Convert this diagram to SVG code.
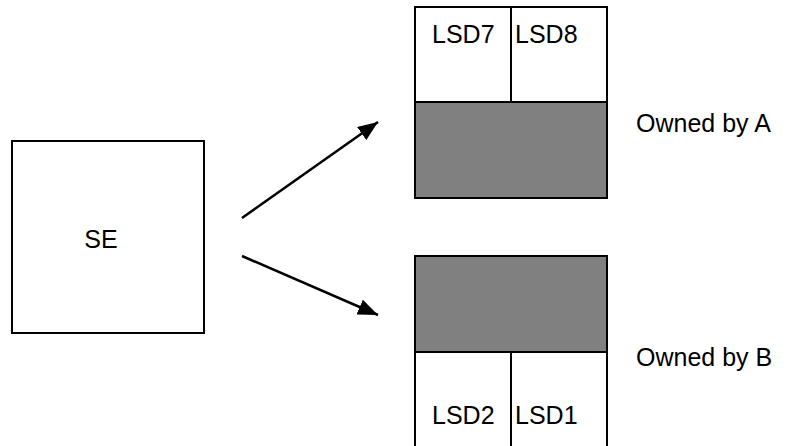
<svg xmlns="http://www.w3.org/2000/svg" width="791" height="446" viewBox="0 0 791 446">
<defs>
<style>
.box{fill:#fff;stroke:#000;stroke-width:2}
.dark{fill:#808080;stroke:#000;stroke-width:2}
.ln{stroke:#000;stroke-width:2.5;fill:none}
.div{stroke:#000;stroke-width:2;fill:none}
.t{font-family:"Liberation Sans",Arial,sans-serif;font-size:25px;fill:#000}
</style>
<marker id="ah" markerWidth="20" markerHeight="16" refX="20" refY="8" orient="auto" markerUnits="userSpaceOnUse">
<path d="M0,0 L20,8 L0,16 Z" fill="#000"/>
</marker>
</defs>
<rect width="791" height="446" fill="#fff"/>
<g id="se">
<rect class="box" x="12" y="141" width="192" height="192"/>
<text class="t" x="101" y="248" text-anchor="middle">SE</text>
</g>
<g id="ownerA">
<rect class="box" x="415" y="7" width="192" height="95"/>
<line class="div" x1="511" y1="7" x2="511" y2="102"/>
<rect class="dark" x="415" y="102" width="192" height="96"/>
<text class="t" x="432" y="43">LSD7</text>
<text class="t" x="515" y="43">LSD8</text>
<text class="t" x="636" y="132">Owned by A</text>
</g>
<g id="ownerB">
<rect class="dark" x="415" y="256" width="192" height="96"/>
<rect class="box" x="415" y="352" width="192" height="110"/>
<line class="div" x1="511" y1="352" x2="511" y2="462"/>
<text class="t" x="432" y="424">LSD2</text>
<text class="t" x="515" y="424">LSD1</text>
<text class="t" x="636" y="366">Owned by B</text>
</g>
<g id="connectors">
<line class="ln" x1="242" y1="218" x2="378" y2="122" marker-end="url(#ah)"/>
<line class="ln" x1="242" y1="256" x2="378" y2="315" marker-end="url(#ah)"/>
</g>
</svg>
